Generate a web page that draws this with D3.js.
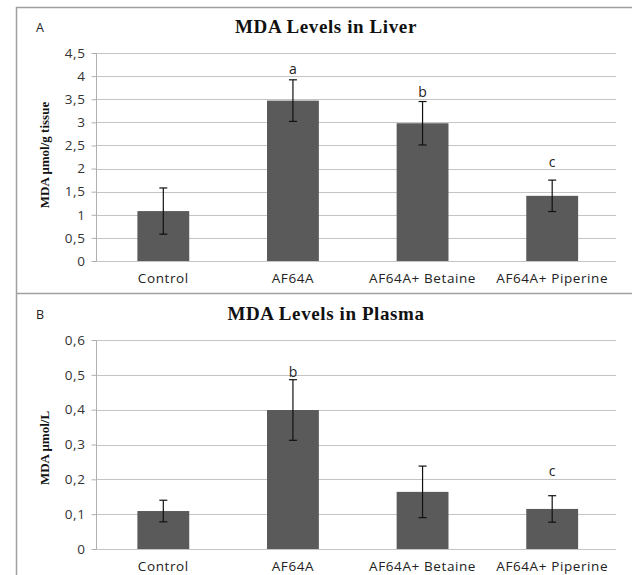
<!DOCTYPE html>
<html><head><meta charset="utf-8">
<script src="https://cdn.jsdelivr.net/npm/d3@7"></script>
<style>body{margin:0;background:#fff}svg{display:block}</style>
</head><body>
<svg id="c" width="632" height="575"></svg>
<script>
const categories = ["Control", "AF64A", "AF64A+ Betaine", "AF64A+ Piperine"];
const liverValues = [1.08, 3.47, 2.98, 1.41];
const liverErrors = [0.50, 0.45, 0.47, 0.34];
const liverLetters = ["", "a", "b", "c"];
const liverLetterLevels = [0, 4.05, 3.55, 2.03];
const liverTicks = [0, 0.5, 1, 1.5, 2, 2.5, 3, 3.5, 4, 4.5];
const plasmaValues = [0.109, 0.399, 0.164, 0.115];
const plasmaErrors = [0.031, 0.087, 0.074, 0.038];
const plasmaLetters = ["", "b", "", "c"];
const plasmaLetterLevels = [0, 0.494, 0, 0.21];
const plasmaTicks = [0, 0.1, 0.2, 0.3, 0.4, 0.5, 0.6];

const svg = d3.select("#c");
const fmt = d => String(+d.toFixed(2)).replace(".", ",");
const SANS = "Open Sans, sans-serif";

// frame
svg.append("path").attr("d", "M16.5,575V7.5H632M16.5,293.5H632")
  .attr("fill", "none").attr("stroke", "#a0a0a0").attr("stroke-width", 1.5);

function panel(o) {
  const g = svg.append("g");
  const x = d3.scaleBand().domain(categories).range([98.5, 617]).paddingInner(0.6).paddingOuter(0.3);
  const y = d3.scaleLinear().domain([0, o.max]).range([o.y0, o.y1]);

  g.append("g").selectAll("line").data(o.ticks).join("line")
    .attr("x1", 96).attr("x2", 616)
    .attr("y1", d => Math.round(y(d)) + 0.5).attr("y2", d => Math.round(y(d)) + 0.5)
    .attr("stroke", "#c4c4c4").attr("stroke-width", 1.2);

  const ya = g.append("g").attr("transform", "translate(96.5,0)")
    .call(d3.axisLeft(y).tickValues(o.ticks).tickSize(5).tickPadding(6).tickFormat(fmt));
  ya.select(".domain").attr("stroke", "#b0b0b0").attr("d", `M-0,${o.y0}V${o.y1}`);
  ya.selectAll(".tick line").attr("stroke", "#b0b0b0");
  ya.selectAll(".tick text").attr("font-family", SANS).attr("font-size", 13.5)
    .attr("letter-spacing", 0.6).attr("fill", "#333");

  g.append("g").selectAll("rect").data(o.values).join("rect")
    .attr("x", (d, i) => x(categories[i])).attr("width", x.bandwidth())
    .attr("y", d => y(d)).attr("height", d => y(0) - y(d))
    .attr("fill", "#5a5a5a");

  const eb = g.append("g").attr("stroke", "#111").attr("stroke-width", 1.2);
  o.values.forEach((v, i) => {
    const cx = x(categories[i]) + x.bandwidth() / 2;
    const hi = y(v + o.errors[i]), lo = y(v - o.errors[i]);
    eb.append("line").attr("x1", cx).attr("x2", cx).attr("y1", hi).attr("y2", lo);
    eb.append("line").attr("x1", cx - 4).attr("x2", cx + 4).attr("y1", hi).attr("y2", hi);
    eb.append("line").attr("x1", cx - 4).attr("x2", cx + 4).attr("y1", lo).attr("y2", lo);
  });

  g.append("g").selectAll("text").data(o.letters).join("text")
    .attr("x", (d, i) => x(categories[i]) + x.bandwidth() / 2)
    .attr("y", (d, i) => y(o.letterLevels[i]))
    .attr("text-anchor", "middle").attr("font-family", SANS)
    .attr("font-size", 14).attr("fill", "#222").text(d => d);

  g.append("g").selectAll("text").data(categories).join("text")
    .attr("x", d => x(d) + x.bandwidth() / 2).attr("y", o.y0 + 22)
    .attr("text-anchor", "middle").attr("font-family", SANS)
    .attr("font-size", 13.5).attr("letter-spacing", 0.6).attr("fill", "#222").text(d => d);

  g.append("text").attr("x", 326).attr("y", o.titleY).attr("text-anchor", "middle")
    .attr("font-family", "Liberation Serif, serif").attr("font-weight", "bold")
    .attr("font-size", 19).attr("letter-spacing", 0.6).attr("fill", "#111").text(o.title);
  g.append("text").attr("x", 36).attr("y", o.titleY - 1)
    .attr("font-family", SANS).attr("font-size", 12.5).attr("fill", "#222").text(o.letter);

  g.append("text").attr("transform", `translate(49,${o.ytY}) rotate(-90)`)
    .attr("text-anchor", "middle").attr("font-family", "Liberation Serif, serif")
    .attr("font-weight", "bold").attr("font-size", 13).attr("fill", "#111").text(o.ytitle);
}

panel({ max: 4.5, y0: 261, y1: 53, ticks: liverTicks, values: liverValues, errors: liverErrors,
  letters: liverLetters, letterLevels: liverLetterLevels, title: "MDA Levels in Liver", titleY: 33,
  letter: "A", ytitle: "MDA μmol/g tissue", ytY: 155 });
panel({ max: 0.6, y0: 549, y1: 340, ticks: plasmaTicks, values: plasmaValues, errors: plasmaErrors,
  letters: plasmaLetters, letterLevels: plasmaLetterLevels, title: "MDA Levels in Plasma", titleY: 320,
  letter: "B", ytitle: "MDA μmol/L", ytY: 448 });
</script>
</body></html>
